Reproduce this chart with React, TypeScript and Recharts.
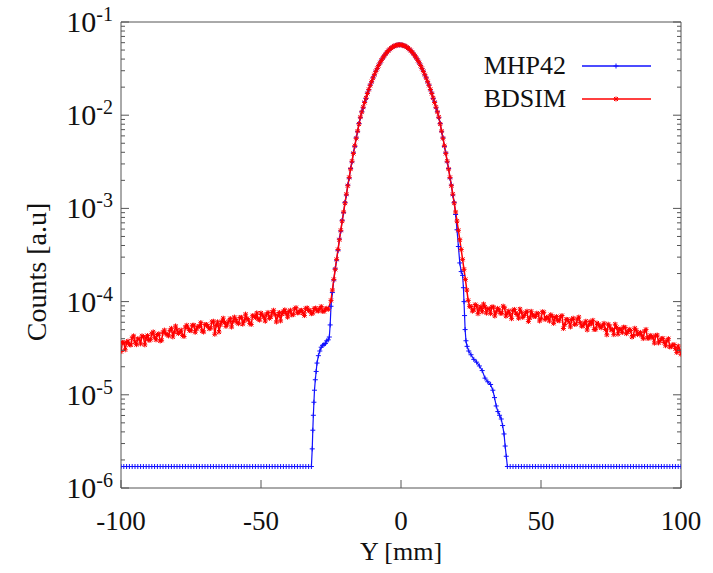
import { LineChart, Line, XAxis, YAxis, Legend } from "recharts";

// [Y in mm, counts]
const MHP42_LEFT_FLOOR: [number, number][] = [
    [-100, 1.7e-6], [-99, 1.7e-6], [-98, 1.7e-6], [-97, 1.7e-6], [-96, 1.7e-6], [-95, 1.7e-6], [-94, 1.7e-6], [-93, 1.7e-6], [-92, 1.7e-6], [-91, 1.7e-6],
    [-90, 1.7e-6], [-89, 1.7e-6], [-88, 1.7e-6], [-87, 1.7e-6], [-86, 1.7e-6], [-85, 1.7e-6], [-84, 1.7e-6], [-83, 1.7e-6], [-82, 1.7e-6], [-81, 1.7e-6],
    [-80, 1.7e-6], [-79, 1.7e-6], [-78, 1.7e-6], [-77, 1.7e-6], [-76, 1.7e-6], [-75, 1.7e-6], [-74, 1.7e-6], [-73, 1.7e-6], [-72, 1.7e-6], [-71, 1.7e-6],
    [-70, 1.7e-6], [-69, 1.7e-6], [-68, 1.7e-6], [-67, 1.7e-6], [-66, 1.7e-6], [-65, 1.7e-6], [-64, 1.7e-6], [-63, 1.7e-6], [-62, 1.7e-6], [-61, 1.7e-6],
    [-60, 1.7e-6], [-59, 1.7e-6], [-58, 1.7e-6], [-57, 1.7e-6], [-56, 1.7e-6], [-55, 1.7e-6], [-54, 1.7e-6], [-53, 1.7e-6], [-52, 1.7e-6], [-51, 1.7e-6],
    [-50, 1.7e-6], [-49, 1.7e-6], [-48, 1.7e-6], [-47, 1.7e-6], [-46, 1.7e-6], [-45, 1.7e-6], [-44, 1.7e-6], [-43, 1.7e-6], [-42, 1.7e-6], [-41, 1.7e-6],
    [-40, 1.7e-6], [-39, 1.7e-6], [-38, 1.7e-6], [-37, 1.7e-6], [-36, 1.7e-6], [-35, 1.7e-6], [-34, 1.7e-6], [-33, 1.7e-6],
];

const MHP42_LEFT_EDGE: [number, number][] = [
    [-32, 1.7e-6], [-31.7, 2.63e-6], [-31.5, 4.17e-6], [-31.3, 6.03e-6], [-31.1, 8.32e-6], [-30.9, 1.12e-5],
    [-30.6, 1.45e-5], [-30.3, 1.78e-5], [-30, 2.19e-5], [-29.5, 2.63e-5], [-29, 2.95e-5], [-28.5, 3.24e-5],
    [-28, 3.39e-5], [-27.5, 3.47e-5], [-27, 3.55e-5], [-26.5, 3.8e-5], [-26, 3.89e-5], [-25.6, 4.17e-5],
    [-25.3, 5.62e-5], [-25, 8.91e-5],
];

const MHP42_CORE: [number, number][] = [
    [-24.5, 1.25e-4], [-24, 1.7e-4], [-23.5, 2.25e-4], [-23, 2.78e-4], [-22.5, 3.55e-4], [-22, 4.7e-4],
    [-21.5, 5.7e-4], [-21, 7.45e-4], [-20.5, 9.0e-4], [-20, 1.16e-3], [-19.5, 1.39e-3], [-19, 1.78e-3],
    [-18.5, 2.11e-3], [-18, 2.68e-3], [-17.5, 3.15e-3], [-17, 3.95e-3], [-16.5, 4.62e-3], [-16, 5.72e-3],
    [-15.5, 6.65e-3], [-15, 8.15e-3], [-14.5, 9.4e-3], [-14, 1.09e-2], [-13.5, 1.2e-2], [-13, 1.39e-2],
    [-12.5, 1.51e-2], [-12, 1.73e-2], [-11.5, 1.87e-2], [-11, 2.11e-2], [-10.5, 2.27e-2], [-10, 2.52e-2],
    [-9.5, 2.7e-2], [-9, 2.97e-2], [-8.5, 3.16e-2], [-8, 3.43e-2], [-7.5, 3.63e-2], [-7, 3.9e-2],
    [-6.5, 4.09e-2], [-6, 4.35e-2], [-5.5, 4.52e-2], [-5, 4.76e-2], [-4.5, 4.91e-2], [-4, 5.12e-2],
    [-3.5, 5.23e-2], [-3, 5.4e-2], [-2.5, 5.48e-2], [-2, 5.6e-2], [-1.5, 5.63e-2], [-1, 5.71e-2],
    [-0.5, 5.68e-2], [0, 5.71e-2], [0.5, 5.63e-2], [1, 5.6e-2], [1.5, 5.48e-2], [2, 5.4e-2],
    [2.5, 5.23e-2], [3, 5.12e-2], [3.5, 4.91e-2], [4, 4.76e-2], [4.5, 4.52e-2], [5, 4.35e-2],
    [5.5, 4.09e-2], [6, 3.9e-2], [6.5, 3.63e-2], [7, 3.43e-2], [7.5, 3.16e-2], [8, 2.97e-2],
    [8.5, 2.7e-2], [9, 2.52e-2], [9.5, 2.27e-2], [10, 2.11e-2], [10.5, 1.87e-2], [11, 1.73e-2],
    [11.5, 1.51e-2], [12, 1.39e-2], [12.5, 1.2e-2], [13, 1.09e-2], [13.5, 9.4e-3], [14, 8.15e-3],
    [14.5, 6.65e-3], [15, 5.72e-3], [15.5, 4.62e-3], [16, 3.95e-3], [16.5, 3.15e-3], [17, 2.68e-3],
    [17.5, 2.11e-3], [18, 1.78e-3], [18.5, 1.39e-3], [19, 1.16e-3],
];

const MHP42_RIGHT_EDGE: [number, number][] = [
    [19.5, 8.6e-4], [20, 5.9e-4], [20.5, 3.9e-4], [21, 2.6e-4], [21.5, 2.1e-4], [22, 1.91e-4],
    [22.3, 1.41e-4], [22.5, 1.0e-4], [22.7, 7.08e-5], [22.9, 5.01e-5], [23.2, 3.8e-5], [23.6, 3.31e-5],
    [24.2, 2.95e-5], [25, 2.69e-5], [26, 2.4e-5], [27, 2.24e-5], [28, 2.04e-5], [29, 1.82e-5],
    [30, 1.51e-5], [31, 1.38e-5], [32, 1.29e-5], [32.8, 1.12e-5], [33.4, 9.33e-6], [34, 7.59e-6],
    [34.6, 6.61e-6], [35.2, 6.03e-6], [35.8, 5.5e-6], [36.3, 4.68e-6], [36.8, 3.8e-6], [37.2, 2.82e-6],
    [37.6, 2.19e-6], [38, 1.7e-6],
];

const MHP42_RIGHT_FLOOR: [number, number][] = [
    [39, 1.7e-6], [40, 1.7e-6], [41, 1.7e-6], [42, 1.7e-6], [43, 1.7e-6], [44, 1.7e-6], [45, 1.7e-6], [46, 1.7e-6], [47, 1.7e-6], [48, 1.7e-6],
    [49, 1.7e-6], [50, 1.7e-6], [51, 1.7e-6], [52, 1.7e-6], [53, 1.7e-6], [54, 1.7e-6], [55, 1.7e-6], [56, 1.7e-6], [57, 1.7e-6], [58, 1.7e-6],
    [59, 1.7e-6], [60, 1.7e-6], [61, 1.7e-6], [62, 1.7e-6], [63, 1.7e-6], [64, 1.7e-6], [65, 1.7e-6], [66, 1.7e-6], [67, 1.7e-6], [68, 1.7e-6],
    [69, 1.7e-6], [70, 1.7e-6], [71, 1.7e-6], [72, 1.7e-6], [73, 1.7e-6], [74, 1.7e-6], [75, 1.7e-6], [76, 1.7e-6], [77, 1.7e-6], [78, 1.7e-6],
    [79, 1.7e-6], [80, 1.7e-6], [81, 1.7e-6], [82, 1.7e-6], [83, 1.7e-6], [84, 1.7e-6], [85, 1.7e-6], [86, 1.7e-6], [87, 1.7e-6], [88, 1.7e-6],
    [89, 1.7e-6], [90, 1.7e-6], [91, 1.7e-6], [92, 1.7e-6], [93, 1.7e-6], [94, 1.7e-6], [95, 1.7e-6], [96, 1.7e-6], [97, 1.7e-6], [98, 1.7e-6],
    [99, 1.7e-6], [100, 1.7e-6],
];

const BDSIM_LEFT_TAIL: [number, number][] = [
    [-100, 2.91e-5], [-99, 3.63e-5], [-98, 3.62e-5], [-97, 3.45e-5], [-96, 4.09e-5], [-95, 3.69e-5], [-94, 4.0e-5], [-93, 3.52e-5], [-92, 4.2e-5], [-91, 4.05e-5],
    [-90, 3.83e-5], [-89, 4.52e-5], [-88, 4.15e-5], [-87, 4.44e-5], [-86, 3.78e-5], [-85, 4.69e-5], [-84, 4.53e-5], [-83, 4.28e-5], [-82, 5.17e-5], [-81, 4.68e-5],
    [-80, 4.98e-5], [-79, 4.67e-5], [-78, 4.34e-5], [-77, 5.34e-5], [-76, 5.16e-5], [-75, 4.87e-5], [-74, 5.59e-5], [-73, 5.07e-5], [-72, 5.43e-5], [-71, 4.84e-5],
    [-70, 5.69e-5], [-69, 5.45e-5], [-68, 5.19e-5], [-67, 6.16e-5], [-66, 5.56e-5], [-65, 4.72e-5], [-64, 6.12e-5], [-63, 5.98e-5], [-62, 5.76e-5], [-61, 6.58e-5],
    [-60, 6.11e-5], [-59, 6.42e-5], [-58, 5.79e-5], [-57, 6.78e-5], [-56, 6.21e-5], [-55, 6.59e-5], [-54, 5.83e-5], [-53, 7.05e-5], [-52, 6.74e-5], [-51, 6.49e-5],
    [-50, 7.54e-5], [-49, 6.84e-5], [-48, 7.33e-5], [-47, 6.61e-5], [-46, 7.68e-5], [-45, 7.31e-5], [-44, 7.02e-5], [-43, 6.2e-5], [-42, 7.82e-5], [-41, 7.44e-5],
    [-40, 7.82e-5], [-39, 7.2e-5], [-38, 8.35e-5], [-37, 7.57e-5], [-36, 8.03e-5], [-35, 7.54e-5], [-34, 8.46e-5], [-33, 8.02e-5], [-32, 7.41e-5], [-31, 8.41e-5],
    [-30, 7.97e-5], [-29, 8.43e-5], [-28, 7.89e-5], [-27, 8.35e-5], [-26, 8.24e-5],
];

const BDSIM_LEFT_TAIL_HALF: [number, number][] = [
    [-99.5, 3.65e-5], [-98.5, 3.04e-5], [-97.5, 3.77e-5], [-96.5, 3.42e-5], [-95.5, 4.29e-5], [-94.5, 3.45e-5], [-93.5, 3.96e-5], [-92.5, 4.29e-5], [-91.5, 3.43e-5], [-90.5, 4.32e-5],
    [-89.5, 3.9e-5], [-88.5, 4.73e-5], [-87.5, 3.89e-5], [-86.5, 4.52e-5], [-85.5, 3.85e-5], [-84.5, 4.95e-5], [-83.5, 4.43e-5], [-82.5, 4.91e-5], [-81.5, 4.18e-5], [-80.5, 5.47e-5],
    [-79.5, 4.54e-5], [-78.5, 4.95e-5], [-77.5, 4.22e-5], [-76.5, 5.58e-5], [-75.5, 4.9e-5], [-74.5, 5.57e-5], [-73.5, 4.69e-5], [-72.5, 5.41e-5], [-71.5, 5.94e-5], [-70.5, 4.71e-5],
    [-69.5, 5.68e-5], [-68.5, 5.11e-5], [-67.5, 6.06e-5], [-66.5, 4.46e-5], [-65.5, 6.05e-5], [-64.5, 5.62e-5], [-63.5, 6.64e-5], [-62.5, 5.42e-5], [-61.5, 6.17e-5], [-60.5, 5.33e-5],
    [-59.5, 6.82e-5], [-58.5, 5.95e-5], [-57.5, 6.76e-5], [-56.5, 5.73e-5], [-55.5, 7.33e-5], [-54.5, 6.38e-5], [-53.5, 5.68e-5], [-52.5, 7.04e-5], [-51.5, 7.54e-5], [-50.5, 6.33e-5],
    [-49.5, 7.16e-5], [-48.5, 6.18e-5], [-47.5, 7.65e-5], [-46.5, 6.86e-5], [-45.5, 8.08e-5], [-44.5, 6.04e-5], [-43.5, 7.64e-5], [-42.5, 7.35e-5], [-41.5, 8.16e-5], [-40.5, 6.8e-5],
    [-39.5, 8.09e-5], [-38.5, 7.24e-5], [-37.5, 8.62e-5], [-36.5, 7.6e-5], [-35.5, 8.07e-5], [-34.5, 7.08e-5], [-33.5, 8.56e-5], [-32.5, 8.04e-5], [-31.5, 7.51e-5], [-30.5, 8.52e-5],
    [-29.5, 7.92e-5], [-28.5, 8.86e-5], [-27.5, 7.84e-5], [-26.5, 8.47e-5],
];

const BDSIM_CORE: [number, number][] = [
    [-25, 1.03e-4], [-24.5, 1.33e-4], [-24, 1.73e-4], [-23.5, 2.22e-4], [-23, 2.84e-4], [-22.5, 3.62e-4],
    [-22, 4.61e-4], [-21.5, 5.82e-4], [-21, 7.31e-4], [-20.5, 9.16e-4], [-20, 1.14e-3], [-19.5, 1.42e-3],
    [-19, 1.75e-3], [-18.5, 2.15e-3], [-18, 2.64e-3], [-17.5, 3.21e-3], [-17, 3.89e-3], [-16.5, 4.7e-3],
    [-16, 5.65e-3], [-15.5, 6.76e-3], [-15, 8.05e-3], [-14.5, 9.54e-3], [-14, 1.08e-2], [-13.5, 1.22e-2],
    [-13, 1.37e-2], [-12.5, 1.53e-2], [-12, 1.71e-2], [-11.5, 1.89e-2], [-11, 2.09e-2], [-10.5, 2.29e-2],
    [-10, 2.5e-2], [-9.5, 2.72e-2], [-9, 2.95e-2], [-8.5, 3.18e-2], [-8, 3.41e-2], [-7.5, 3.65e-2],
    [-7, 3.88e-2], [-6.5, 4.11e-2], [-6, 4.33e-2], [-5.5, 4.54e-2], [-5, 4.74e-2], [-4.5, 4.93e-2],
    [-4, 5.1e-2], [-3.5, 5.25e-2], [-3, 5.38e-2], [-2.5, 5.5e-2], [-2, 5.58e-2], [-1.5, 5.65e-2],
    [-1, 5.69e-2], [-0.5, 5.7e-2], [0, 5.69e-2], [0.5, 5.65e-2], [1, 5.58e-2], [1.5, 5.5e-2],
    [2, 5.38e-2], [2.5, 5.25e-2], [3, 5.1e-2], [3.5, 4.93e-2], [4, 4.74e-2], [4.5, 4.54e-2],
    [5, 4.33e-2], [5.5, 4.11e-2], [6, 3.88e-2], [6.5, 3.65e-2], [7, 3.41e-2], [7.5, 3.18e-2],
    [8, 2.95e-2], [8.5, 2.72e-2], [9, 2.5e-2], [9.5, 2.29e-2], [10, 2.09e-2], [10.5, 1.89e-2],
    [11, 1.71e-2], [11.5, 1.53e-2], [12, 1.37e-2], [12.5, 1.22e-2], [13, 1.08e-2], [13.5, 9.54e-3],
    [14, 8.05e-3], [14.5, 6.76e-3], [15, 5.65e-3], [15.5, 4.7e-3], [16, 3.89e-3], [16.5, 3.21e-3],
    [17, 2.64e-3], [17.5, 2.15e-3], [18, 1.75e-3], [18.5, 1.42e-3], [19, 1.14e-3], [19.5, 9.16e-4],
    [20, 7.31e-4], [20.5, 5.82e-4], [21, 4.61e-4], [21.5, 3.62e-4], [22, 2.84e-4], [22.5, 2.22e-4],
    [23, 1.73e-4], [23.5, 1.33e-4], [24, 1.03e-4], [24.5, 8.9e-5],
];

const BDSIM_RIGHT_TAIL: [number, number][] = [
    [25, 8.85e-5], [26, 8.13e-5], [27, 9.02e-5], [28, 8.32e-5], [29, 7.77e-5], [30, 8.74e-5], [31, 8.32e-5], [32, 7.43e-5], [33, 8.74e-5], [34, 7.77e-5],
    [35, 8.18e-5], [36, 7.48e-5], [37, 8.58e-5], [38, 7.58e-5], [39, 7.2e-5], [40, 8.05e-5], [41, 7.52e-5], [42, 6.63e-5], [43, 7.68e-5], [44, 7.09e-5],
    [45, 7.89e-5], [46, 6.68e-5], [47, 7.25e-5], [48, 6.91e-5], [49, 7.4e-5], [50, 6.57e-5], [51, 7.68e-5], [52, 6.73e-5], [53, 6.19e-5], [54, 6.94e-5],
    [55, 6.68e-5], [56, 6.26e-5], [57, 6.88e-5], [58, 5.14e-5], [59, 6.45e-5], [60, 6.05e-5], [61, 6.42e-5], [62, 5.7e-5], [63, 6.48e-5], [64, 5.95e-5],
    [65, 5.48e-5], [66, 6.16e-5], [67, 5.56e-5], [68, 5.77e-5], [69, 5.02e-5], [70, 5.89e-5], [71, 5.38e-5], [72, 5.56e-5], [73, 5.02e-5], [74, 5.72e-5],
    [75, 4.98e-5], [76, 4.42e-5], [77, 5.29e-5], [78, 5.04e-5], [79, 4.65e-5], [80, 5.29e-5], [81, 4.73e-5], [82, 4.91e-5], [83, 4.32e-5], [84, 4.92e-5],
    [85, 4.57e-5], [86, 4.31e-5], [87, 4.81e-5], [88, 4.07e-5], [89, 4.34e-5], [90, 4.09e-5], [91, 4.34e-5], [92, 3.6e-5], [93, 4.0e-5], [94, 3.63e-5],
    [95, 3.81e-5], [96, 3.26e-5], [97, 3.42e-5], [98, 3.13e-5], [99, 3.33e-5], [100, 2.72e-5],
];

const BDSIM_RIGHT_TAIL_HALF: [number, number][] = [
    [25.5, 7.9e-5], [26.5, 9.3e-5], [27.5, 7.41e-5], [28.5, 8.8e-5], [29.5, 9.42e-5], [30.5, 7.53e-5], [31.5, 8.36e-5], [32.5, 8.78e-5], [33.5, 7.0e-5], [34.5, 8.46e-5],
    [35.5, 7.51e-5], [36.5, 8.94e-5], [37.5, 6.99e-5], [38.5, 7.93e-5], [39.5, 6.56e-5], [40.5, 8.24e-5], [41.5, 7.27e-5], [42.5, 8.31e-5], [43.5, 6.76e-5], [44.5, 7.57e-5],
    [45.5, 6.13e-5], [46.5, 7.87e-5], [47.5, 6.94e-5], [48.5, 7.51e-5], [49.5, 6.19e-5], [50.5, 7.79e-5], [51.5, 6.42e-5], [52.5, 6.84e-5], [53.5, 7.24e-5], [54.5, 5.84e-5],
    [55.5, 6.9e-5], [56.5, 6.22e-5], [57.5, 7.09e-5], [58.5, 5.68e-5], [59.5, 6.41e-5], [60.5, 5.34e-5], [61.5, 6.64e-5], [62.5, 5.73e-5], [63.5, 6.82e-5], [64.5, 5.45e-5],
    [65.5, 5.85e-5], [66.5, 4.96e-5], [67.5, 6.1e-5], [68.5, 6.29e-5], [69.5, 5.04e-5], [70.5, 5.69e-5], [71.5, 5.23e-5], [72.5, 5.85e-5], [73.5, 4.4e-5], [74.5, 5.48e-5],
    [75.5, 5.01e-5], [76.5, 5.72e-5], [77.5, 4.47e-5], [78.5, 5.07e-5], [79.5, 5.32e-5], [80.5, 4.53e-5], [81.5, 5.04e-5], [82.5, 4.17e-5], [83.5, 5.18e-5], [84.5, 4.43e-5],
    [85.5, 4.67e-5], [86.5, 4.01e-5], [87.5, 5.03e-5], [88.5, 4.03e-5], [89.5, 4.25e-5], [90.5, 3.58e-5], [91.5, 4.37e-5], [92.5, 3.79e-5], [93.5, 4.03e-5], [94.5, 3.36e-5],
    [95.5, 4.0e-5], [96.5, 3.28e-5], [97.5, 3.46e-5], [98.5, 2.85e-5], [99.5, 3.02e-5],
];

const X_TICKS = [-100, -50, 0, 50, 100];
const MAJOR_TICKS = [1e-6, 1e-5, 1e-4, 1e-3, 1e-2, 1e-1];
const Y_TICKS = [
    1e-6, 2e-6, 3e-6, 4e-6, 5e-6, 6e-6, 7e-6, 8e-6, 9e-6,
    1e-5, 2e-5, 3e-5, 4e-5, 5e-5, 6e-5, 7e-5, 8e-5, 9e-5,
    1e-4, 2e-4, 3e-4, 4e-4, 5e-4, 6e-4, 7e-4, 8e-4, 9e-4,
    1e-3, 2e-3, 3e-3, 4e-3, 5e-3, 6e-3, 7e-3, 8e-3, 9e-3,
    1e-2, 2e-2, 3e-2, 4e-2, 5e-2, 6e-2, 7e-2, 8e-2, 9e-2,
    1e-1,
];

const toPoints = (rows: [number, number][]) =>
    [...rows].sort((a, b) => a[0] - b[0]).map(([y, counts]) => ({ y, counts }));

const mhpData = toPoints([
    ...MHP42_LEFT_FLOOR, ...MHP42_LEFT_EDGE, ...MHP42_CORE, ...MHP42_RIGHT_EDGE, ...MHP42_RIGHT_FLOOR,
]);
const bdsimData = toPoints([
    ...BDSIM_LEFT_TAIL, ...BDSIM_LEFT_TAIL_HALF, ...BDSIM_CORE, ...BDSIM_RIGHT_TAIL, ...BDSIM_RIGHT_TAIL_HALF,
]);

const BLUE = "#1010ff";
const RED = "#ff0000";
const AXIS = "#555";
const FONT = '"Liberation Serif", "Times New Roman", serif';

const PlusDot = (props: any) => {
    const { cx, cy, index } = props;
    if (cx == null || cy == null) return <g key={`p-${index}`} />;
    return (
        <path
            key={`p-${index}`}
            d={`M${cx - 2.5},${cy}h5M${cx},${cy - 2.5}v5`}
            stroke={BLUE}
            strokeWidth={1}
        />
    );
};

const StarDot = (props: any) => {
    const { cx, cy, index } = props;
    if (cx == null || cy == null) return <g key={`s-${index}`} />;
    return (
        <path
            key={`s-${index}`}
            d={`M${cx - 2.5},${cy}h5M${cx},${cy - 2.5}v5M${cx - 2},${cy - 2}l4,4M${cx - 2},${cy + 2}l4,-4`}
            stroke={RED}
            strokeWidth={1}
        />
    );
};

const LeftTick = (props: any) => {
    const { x, y, payload } = props;
    const major = MAJOR_TICKS.includes(payload.value);
    const exp = Math.round(Math.log10(payload.value));
    return (
        <g>
            <line x1={x} x2={x + (major ? 8 : 4)} y1={y} y2={y} stroke={AXIS} />
            {major && (
                <text x={x - 8} y={y + 10} textAnchor="end" fontSize={30} fontFamily={FONT} fill="#111">
                    10
                    <tspan dy={-11} fontSize={20}>{exp}</tspan>
                </text>
            )}
        </g>
    );
};

const RightTick = (props: any) => {
    const { x, y, payload } = props;
    const major = MAJOR_TICKS.includes(payload.value);
    return <line x1={x} x2={x - (major ? 8 : 4)} y1={y} y2={y} stroke={AXIS} />;
};

const BottomTick = (props: any) => {
    const { x, y, payload } = props;
    return (
        <g>
            <line x1={x} x2={x} y1={y} y2={y - 8} stroke={AXIS} />
            <text x={x} y={y + 42} textAnchor="middle" fontSize={27} fontFamily={FONT} fill="#111">
                {payload.value}
            </text>
        </g>
    );
};

const TopTick = (props: any) => {
    const { x, y } = props;
    return <line x1={x} x2={x} y1={y} y2={y + 8} stroke={AXIS} />;
};

const LEGEND_ROWS = [
    { name: "MHP42", color: BLUE, marker: "plus" },
    { name: "BDSIM", color: RED, marker: "star" },
];

const renderLegend = () => (
    <div style={{ position: "relative", width: 713, height: 573, pointerEvents: "none" }}>
        {LEGEND_ROWS.map((row, i) => {
            const cy = 65.5 + i * 33;
            return (
                <div key={row.name}>
                    <div
                        style={{
                            position: "absolute",
                            right: 147,
                            top: cy - 16,
                            fontFamily: FONT,
                            fontSize: 26,
                            lineHeight: "32px",
                            color: "#111",
                        }}
                    >
                        {row.name}
                    </div>
                    <svg style={{ position: "absolute", left: 582, top: cy - 5 }} width={70} height={10}>
                        <line x1={0} x2={69} y1={5} y2={5} stroke={row.color} strokeWidth={1.3} />
                        {row.marker === "plus" ? (
                            <path d="M31.5,5h5M34,2.5v5" stroke={row.color} />
                        ) : (
                            <path d="M31.5,5h5M34,2.5v5M32,3l4,4M32,7l4,-4" stroke={row.color} />
                        )}
                    </svg>
                </div>
            );
        })}
    </div>
);

export default function App() {
    return (
        <div style={{ position: "absolute", left: 0, top: 0, width: 713, height: 573, background: "#fff" }}>
            <LineChart width={713} height={573} margin={{ top: 21, right: 31, bottom: 0, left: 0 }}>
                <XAxis
                    xAxisId="bottom"
                    dataKey="y"
                    type="number"
                    domain={[-100, 100]}
                    ticks={X_TICKS}
                    height={85}
                    tickSize={0}
                    tickMargin={0}
                    tickLine={false}
                    stroke={AXIS}
                    tick={<BottomTick />}
                    interval={0}
                    allowDataOverflow
                />
                <XAxis
                    xAxisId="top"
                    orientation="top"
                    type="number"
                    domain={[-100, 100]}
                    ticks={X_TICKS}
                    height={1}
                    tickSize={0}
                    tickMargin={0}
                    tickLine={false}
                    stroke={AXIS}
                    tick={<TopTick />}
                    interval={0}
                    allowDataOverflow
                />
                <YAxis
                    yAxisId="left"
                    scale="log"
                    type="number"
                    domain={[1e-6, 1e-1]}
                    ticks={Y_TICKS}
                    width={121}
                    tickSize={0}
                    tickMargin={0}
                    tickLine={false}
                    stroke={AXIS}
                    tick={<LeftTick />}
                    interval={0}
                    allowDataOverflow
                />
                <YAxis
                    yAxisId="right"
                    orientation="right"
                    scale="log"
                    type="number"
                    domain={[1e-6, 1e-1]}
                    ticks={Y_TICKS}
                    width={1}
                    tickSize={0}
                    tickMargin={0}
                    tickLine={false}
                    stroke={AXIS}
                    tick={<RightTick />}
                    interval={0}
                    allowDataOverflow
                />
                <Legend
                    layout="vertical"
                    align="center"
                    verticalAlign="middle"
                    content={renderLegend}
                    wrapperStyle={{ position: "absolute", left: 0, top: 0, width: 713, height: 573 }}
                />
                <Line
                    xAxisId="bottom"
                    yAxisId="left"
                    data={mhpData}
                    dataKey="counts"
                    name="MHP42"
                    type="linear"
                    stroke={BLUE}
                    strokeWidth={1.2}
                    dot={PlusDot}
                    activeDot={false}
                    isAnimationActive={false}
                />
                <Line
                    xAxisId="bottom"
                    yAxisId="left"
                    data={bdsimData}
                    dataKey="counts"
                    name="BDSIM"
                    type="linear"
                    stroke={RED}
                    strokeWidth={1.5}
                    dot={StarDot}
                    activeDot={false}
                    isAnimationActive={false}
                />
            </LineChart>
            <div
                style={{
                    position: "absolute",
                    left: 37,
                    top: 272,
                    transform: "translate(-50%, -50%) rotate(-90deg)",
                    fontFamily: FONT,
                    fontSize: 28,
                    whiteSpace: "nowrap",
                    color: "#111",
                }}
            >
                Counts [a.u]
            </div>
            <div
                style={{
                    position: "absolute",
                    left: 401,
                    top: 552,
                    transform: "translate(-50%, -50%)",
                    fontFamily: FONT,
                    fontSize: 26,
                    whiteSpace: "nowrap",
                    color: "#111",
                }}
            >
                Y [mm]
            </div>
        </div>
    );
}
